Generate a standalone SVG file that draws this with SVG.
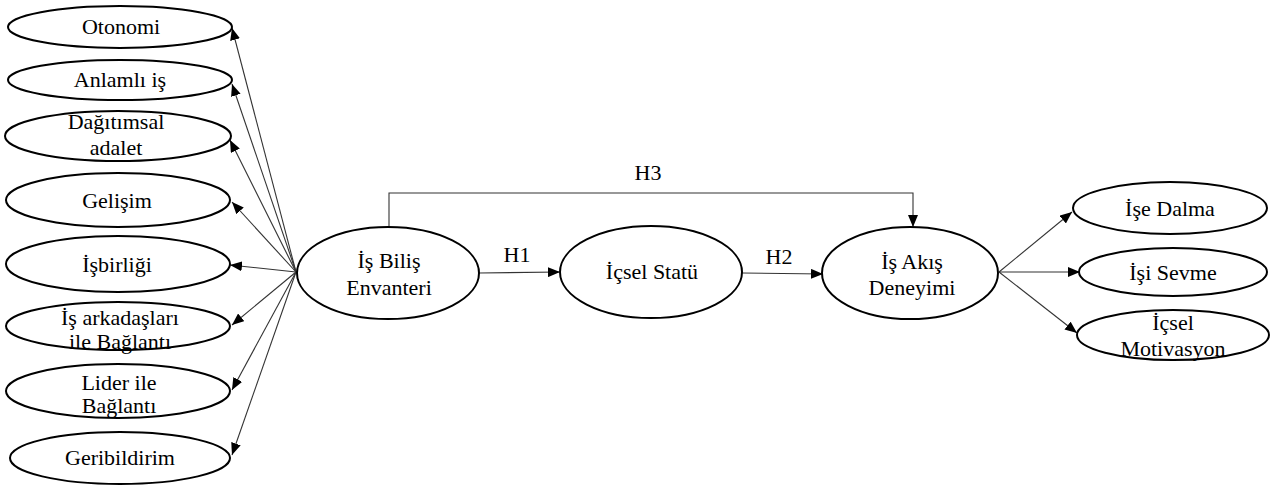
<svg xmlns="http://www.w3.org/2000/svg" width="1274" height="486" viewBox="0 0 1274 486">
<style>
.n ellipse{fill:#fff;stroke:#000;stroke-width:2}
.n text{font-family:"Liberation Serif","Times New Roman",serif;font-size:22px;fill:#000;text-anchor:middle}
.lbl{font-family:"Liberation Serif","Times New Roman",serif;font-size:22px;fill:#000;text-anchor:middle}
.c path{fill:none;stroke:#333;stroke-width:1.1;marker-end:url(#ah)}
</style>
<defs>
<marker id="ah" viewBox="0 0 12 10" refX="12" refY="5" markerWidth="12" markerHeight="10" markerUnits="userSpaceOnUse" orient="auto">
<path d="M0,0 L12,5 L0,10 Z" fill="#000"/>
</marker>
</defs>
<rect width="1274" height="486" fill="#fff"/>
<g class="c">
<path d="M296,272 L232,28"/>
<path d="M296,272 L232,84"/>
<path d="M296,272 L230,140"/>
<path d="M296,272 L232,202"/>
<path d="M296,272 L230,265"/>
<path d="M296,272 L232,325"/>
<path d="M296,272 L232,390"/>
<path d="M296,272 L232,455"/>
<path d="M479,273 L560,272"/>
<path d="M742,273 L823,274"/>
<path d="M389,227 V193 H913 V227"/>
<path d="M999,272 L1072,212"/>
<path d="M999,272 L1080,272"/>
<path d="M999,272 L1077,333"/>
</g>
<text class="lbl" x="517" y="262">H1</text>
<text class="lbl" x="779" y="264">H2</text>
<text class="lbl" x="648" y="180">H3</text>
<g id="otonomi" class="n"><ellipse cx="120" cy="27" rx="112" ry="21"/><text x="121" y="34">Otonomi</text></g>
<g id="anlamli" class="n"><ellipse cx="120" cy="80" rx="112" ry="20"/><text x="120" y="87">Anlamlı iş</text></g>
<g id="dagitimsal" class="n"><ellipse cx="118" cy="136" rx="113" ry="25"/><text x="116" y="129">Dağıtımsal</text><text x="116" y="155">adalet</text></g>
<g id="gelisim" class="n"><ellipse cx="118" cy="200" rx="112" ry="27"/><text x="117" y="208">Gelişim</text></g>
<g id="isbirligi" class="n"><ellipse cx="118" cy="264" rx="112" ry="28"/><text x="117" y="272">İşbirliği</text></g>
<g id="isarkadaslari" class="n"><ellipse cx="118" cy="326" rx="112" ry="24"/><text x="120" y="325">İş arkadaşları</text><text x="120" y="349">ile Bağlantı</text></g>
<g id="lider" class="n"><ellipse cx="118" cy="391" rx="112" ry="27"/><text x="119" y="390">Lider ile</text><text x="119" y="413">Bağlantı</text></g>
<g id="geribildirim" class="n"><ellipse cx="120" cy="458" rx="110" ry="26"/><text x="120" y="465">Geribildirim</text></g>
<g id="isbilis" class="n"><ellipse cx="388" cy="273" rx="91" ry="46"/><text x="389" y="268">İş Biliş</text><text x="389" y="295">Envanteri</text></g>
<g id="icselstatu" class="n"><ellipse cx="651" cy="272" rx="91" ry="46"/><text x="652" y="279">İçsel Statü</text></g>
<g id="isakis" class="n"><ellipse cx="910" cy="273" rx="88" ry="46"/><text x="912" y="269">İş Akış</text><text x="912" y="295">Deneyimi</text></g>
<g id="isedalma" class="n"><ellipse cx="1170" cy="208" rx="97" ry="26"/><text x="1170" y="216">İşe Dalma</text></g>
<g id="isisevme" class="n"><ellipse cx="1173" cy="272" rx="94" ry="24"/><text x="1173" y="280">İşi Sevme</text></g>
<g id="icselmot" class="n"><ellipse cx="1173" cy="335" rx="96" ry="25"/><text x="1173" y="330">İçsel</text><text x="1173" y="356">Motivasyon</text></g>
</svg>
